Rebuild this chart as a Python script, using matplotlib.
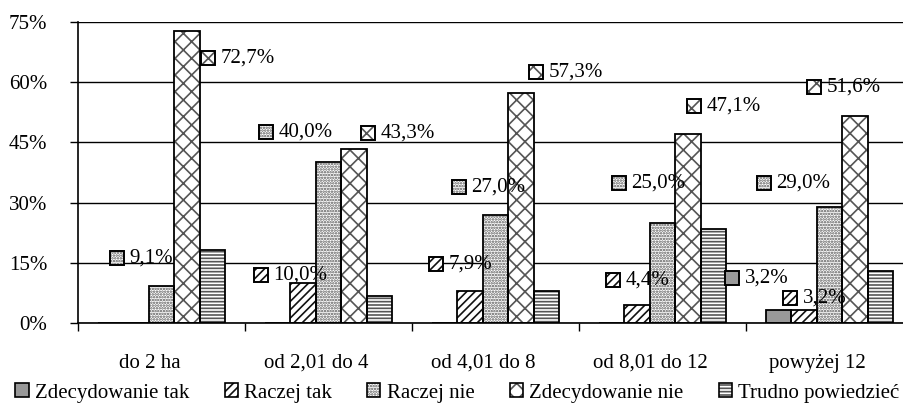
import matplotlib
matplotlib.use("Agg")
import matplotlib.pyplot as plt
import numpy as np
from matplotlib.patches import Rectangle
from matplotlib.offsetbox import DrawingArea, TextArea, HPacker, AnnotationBbox
from matplotlib.legend_handler import HandlerTuple
import matplotlib.transforms as mtransforms

plt.rcParams['font.family'] = ['Liberation Serif', 'DejaVu Serif']
plt.rcParams['hatch.linewidth'] = 1.2

categories = ["do 2 ha", "od 2,01 do 4", "od 4,01 do 8", "od 8,01 do 12", "powyżej 12"]
series_names = ["Zdecydowanie tak", "Raczej tak", "Raczej nie", "Zdecydowanie nie", "Trudno powiedzieć"]
zdecydowanie_tak = [0.0, 0.0, 0.0, 0.0, 3.2]
raczej_tak = [0.0, 10.0, 7.9, 4.4, 3.2]
raczej_nie = [9.1, 40.0, 27.0, 25.0, 29.0]
zdecydowanie_nie = [72.7, 43.3, 57.3, 47.1, 51.6]
trudno = [18.2, 6.7, 7.9, 23.5, 12.9]
yticks = [0, 15, 30, 45, 60, 75]

values = [zdecydowanie_tak, raczej_tak, raczej_nie, zdecydowanie_nie, trudno]

# style per series: facecolor, hatch, hatch colour
styles = [
    ("#999999", None, "#999999"),
    ("white", "////", "#111111"),
    ("white", "......", "#555555"),
    ("white", "xx", "#555555"),
    ("white", "-----", "#555555"),
]

# labelled bars: (series index, category index, offset px dx, dy) - layout only
label_layout = [
    (2, 0, -51.5, 28.5), (3, 0, 14, -26.7),
    (1, 1, -49, 8), (2, 1, -69.5, 30.5), (3, 1, 7, 16),
    (1, 2, -41, 27), (2, 2, -43.5, 27.6), (3, 2, 8, 21),
    (1, 3, -31, 25), (2, 3, -50.5, 39.7), (3, 3, -1, 28),
    (0, 4, -53.5, 32), (1, 4, -21, 12), (2, 4, -72.5, 23.6), (3, 4, -48, 29),
]

W, H = 904, 405
fig = plt.figure(figsize=(W / 100, H / 100), dpi=100)
ax = fig.add_axes([78 / W, (H - 323) / H, 835 / W, 301 / H])

n = len(series_names)
x = np.arange(len(categories))
bw = 25.5 / 167.0
FS = 15

legend_handles = []
for j, (vals, (fc, hatch, hc)) in enumerate(zip(values, styles)):
    pos = x + (j - (n - 1) / 2) * bw
    ax.bar(pos, vals, bw, facecolor=fc, edgecolor=hc, hatch=hatch, linewidth=0, zorder=3)
    ax.bar(pos, vals, bw, facecolor="none", edgecolor="black", linewidth=1.3, zorder=4)
    h1 = Rectangle((0, 0), 1, 1, facecolor=fc, edgecolor=hc, hatch=hatch, linewidth=0)
    h2 = Rectangle((0, 0), 1, 1, facecolor="none", edgecolor="black", linewidth=1.2)
    legend_handles.append((h1, h2))

ax.set_xlim(-0.5, len(categories) - 0.5)
ax.set_ylim(0, 75)
ax.set_yticks(yticks)
ax.set_yticklabels([f"{t}%" for t in yticks], fontsize=FS)
ax.yaxis.grid(True, color="black", linewidth=1.0, zorder=0)
ax.set_axisbelow(True)
ax.set_xticks(np.arange(len(categories) + 1) - 0.5)
ax.set_xticklabels([])
ax.set_xticks(x, minor=True)
ax.set_xticklabels(categories, minor=True, fontsize=FS)
ax.tick_params(axis="x", which="minor", length=0, pad=22)
ax.tick_params(axis="x", which="major", length=5.5, width=1.0, direction="out")
ax.tick_params(axis="y", length=6, width=1.0, pad=16)
offset = mtransforms.ScaledTranslation(-12 / 100, 0, fig.dpi_scale_trans)
for lbl in ax.get_xticklabels(minor=True):
    lbl.set_transform(lbl.get_transform() + offset)

for s in ["top", "right"]:
    ax.spines[s].set_visible(False)
for s in ["left", "bottom"]:
    ax.spines[s].set_linewidth(1.2)
    ax.spines[s].set_zorder(5)

# data labels with legend keys
for (j, i, dx, dy) in label_layout:
    v = values[j][i]
    fc, hatch, hc = styles[j]
    xpos = x[i] + (j - (n - 1) / 2) * bw
    da = DrawingArea(10, 10, 0, 0)
    da.add_artist(Rectangle((0, 0), 10, 10, facecolor=fc, edgecolor=hc, hatch=hatch, linewidth=0))
    da.add_artist(Rectangle((0, 0), 10, 10, facecolor="none", edgecolor="black", linewidth=1.4))
    ta = TextArea(f"{v:.1f}%".replace(".", ","), textprops=dict(fontsize=FS))
    box = HPacker(children=[da, ta], align="center", pad=0, sep=4)
    ab = AnnotationBbox(box, (xpos, v), xybox=(dx * 0.72, dy * 0.72), boxcoords="offset points",
                        box_alignment=(0, 0.5), frameon=False, pad=0, zorder=6)
    ax.add_artist(ab)

fig.legend(legend_handles, series_names, loc="center", bbox_to_anchor=(457.5 / W, 12 / H),
           ncol=5, frameon=False, fontsize=FS, handlelength=0.63, handleheight=0.63,
           handletextpad=0.3, columnspacing=1.7, borderpad=0, borderaxespad=0,
           handler_map={tuple: HandlerTuple(ndivide=1, pad=0)})

fig.savefig("out.png", dpi=100)
